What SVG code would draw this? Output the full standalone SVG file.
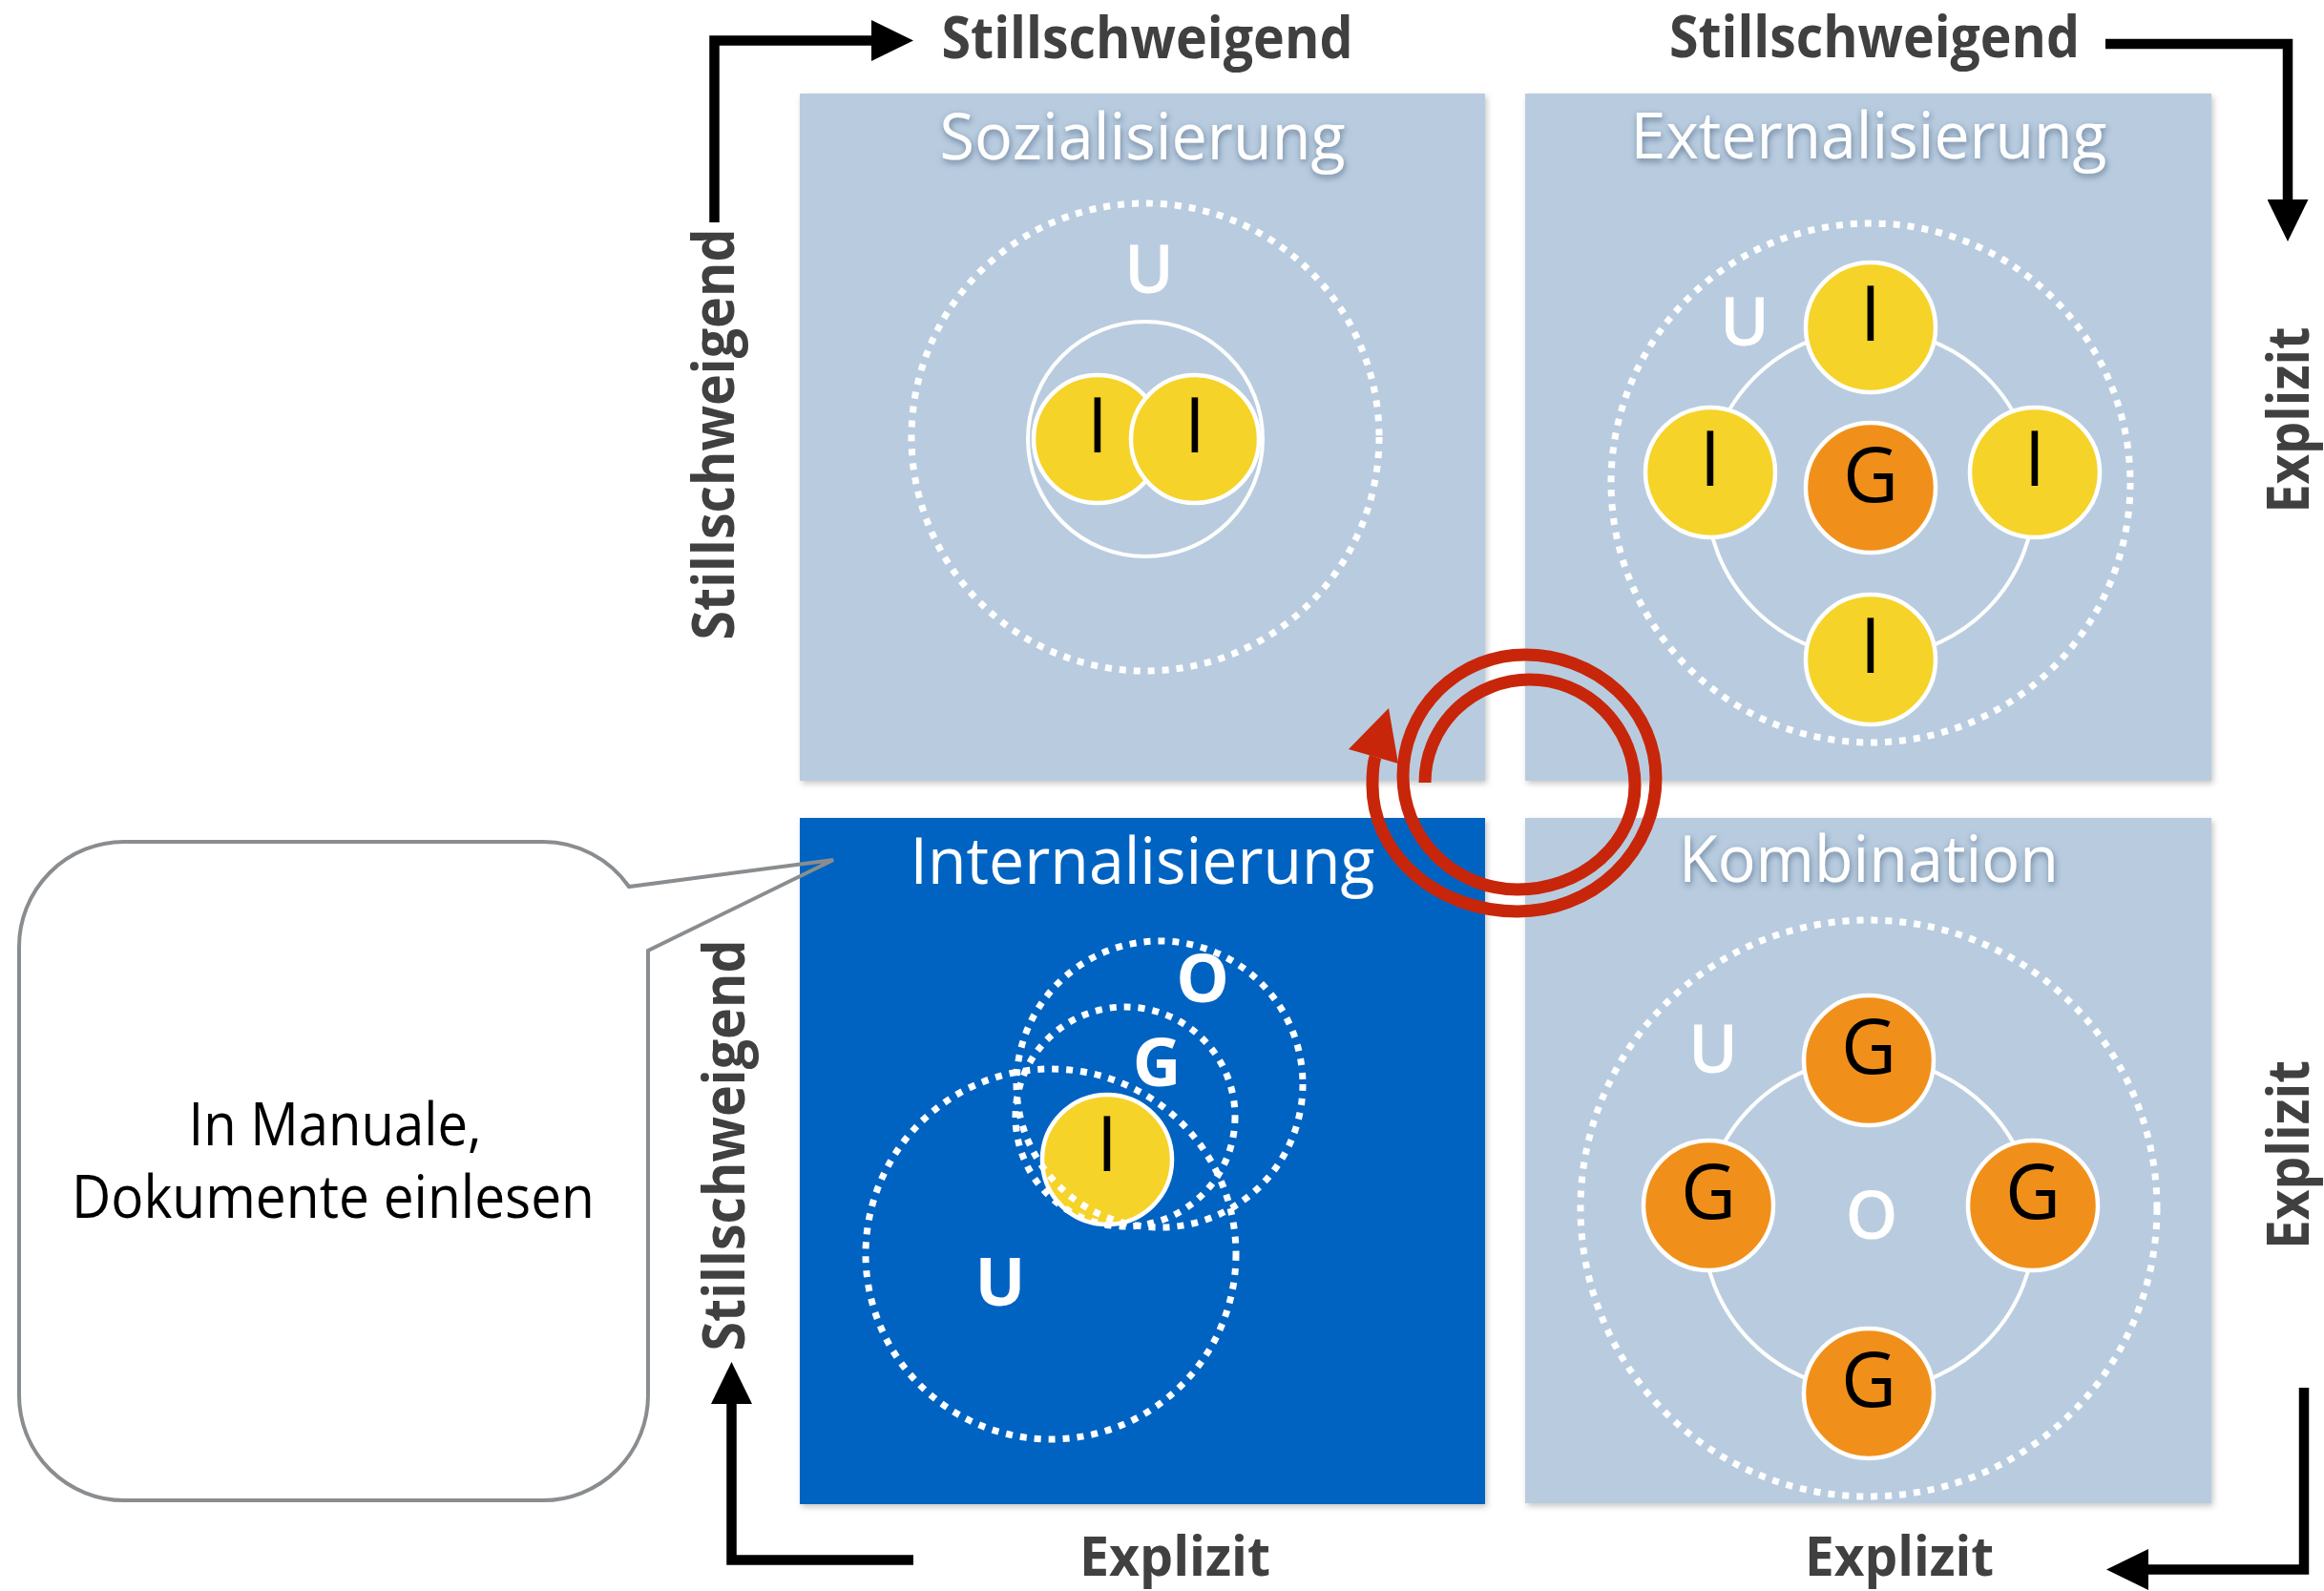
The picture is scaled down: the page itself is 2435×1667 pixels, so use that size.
<svg xmlns="http://www.w3.org/2000/svg" width="2435" height="1667" viewBox="0 0 2435 1667">
  <style>
    .box-light { fill:#B9CCDF; filter:url(#boxShadow); }
    .box-dark { fill:#0563C1; filter:url(#boxShadow); }
    .title { font-family:"Open Sans","Noto Sans",sans-serif; font-size:68px; fill:#ffffff; text-anchor:middle; }
    .shadowed { filter:url(#titleShadow); }
    .dotted { fill:none; stroke:#ffffff; stroke-width:7; stroke-dasharray:7 8; }
    .ring { fill:none; stroke:#ffffff; stroke-width:4; }
    .yellow { fill:#F5D328; stroke:#ffffff; stroke-width:4.5; }
    .orange { fill:#F0901B; stroke:#ffffff; stroke-width:4.5; }
    .letter { font-family:"Open Sans","Noto Sans",sans-serif; font-size:80px; fill:#000000; text-anchor:middle; }
    .label { font-family:"Open Sans","Noto Sans",sans-serif; font-size:70px; font-weight:600; fill:#ffffff; text-anchor:middle; }
    .bold { font-weight:700; }
    .axis { font-family:"Open Sans","Noto Sans",sans-serif; font-weight:700; font-size:60px; fill:#404040; text-anchor:middle; }
    .axis-low { font-size:57px; }
    .conn { fill:none; stroke:#000000; stroke-width:10.5; stroke-linejoin:miter; marker-end:url(#arrow); }
    .spiral { fill:none; stroke:#C8260A; stroke-width:13; stroke-linecap:butt; }
    .callout-fill { fill:#ffffff; stroke:none; }
    .callout-line { fill:none; stroke:#8A8D90; stroke-width:4; stroke-linejoin:miter; }
    .callout-text { font-family:"Open Sans","Noto Sans",sans-serif; font-size:62px; fill:#000000; text-anchor:middle; }
  </style>
  <defs>
    <filter id="boxShadow" x="-5%" y="-5%" width="110%" height="110%">
      <feDropShadow dx="2" dy="3" stdDeviation="3" flood-color="#000000" flood-opacity="0.22"/>
    </filter>
    <filter id="titleShadow" x="-10%" y="-30%" width="120%" height="160%">
      <feDropShadow dx="1" dy="3" stdDeviation="3.5" flood-color="#2E4A6B" flood-opacity="0.6"/>
    </filter>
    <marker id="arrow" viewBox="0 0 44 43" refX="0" refY="21.5" markerWidth="44" markerHeight="43" markerUnits="userSpaceOnUse" orient="auto">
      <path d="M0,0 L44,21.5 L0,43 Z" fill="#000000"/>
    </marker>
    <clipPath id="leftOfBox">
      <rect x="0" y="0" width="838" height="1667"/>
    </clipPath>
  </defs>

  <rect x="0" y="0" width="2435" height="1667" fill="#ffffff"/>

  <!-- Sozialisierung -->
  <g id="sozialisierung">
    <rect class="box-light" x="838" y="98" width="718" height="720"/>
    <text class="title shadowed" x="1197" y="167" textLength="425" lengthAdjust="spacingAndGlyphs">Sozialisierung</text>
    <circle class="dotted" cx="1200" cy="458" r="245"/>
    <circle class="ring" cx="1200" cy="460" r="123"/>
    <text class="label" x="1204" y="307">U</text>
    <circle class="yellow" cx="1150" cy="460" r="67"/>
    <circle class="yellow" cx="1252" cy="460" r="67"/>
    <text class="letter" x="1150" y="474">I</text>
    <text class="letter" x="1252" y="474">I</text>
  </g>

  <!-- Externalisierung -->
  <g id="externalisierung">
    <rect class="box-light" x="1598" y="98" width="719" height="720"/>
    <text class="title shadowed" x="1958" y="166" textLength="499" lengthAdjust="spacingAndGlyphs">Externalisierung</text>
    <circle class="dotted" cx="1960" cy="506" r="272"/>
    <circle class="ring" cx="1960" cy="517" r="172"/>
    <text class="label" x="1828" y="362">U</text>
    <circle class="yellow" cx="1960" cy="343" r="68"/>
    <circle class="yellow" cx="1792" cy="495" r="68"/>
    <circle class="orange" cx="1960" cy="511" r="68"/>
    <circle class="yellow" cx="2132" cy="495" r="68"/>
    <circle class="yellow" cx="1960" cy="691" r="68"/>
    <text class="letter" x="1960" y="357">I</text>
    <text class="letter" x="1792" y="509">I</text>
    <text class="letter" x="1960" y="526">G</text>
    <text class="letter" x="2132" y="509">I</text>
    <text class="letter" x="1960" y="705">I</text>
  </g>

  <!-- Kombination -->
  <g id="kombination">
    <rect class="box-light" x="1598" y="857" width="719" height="718"/>
    <text class="title shadowed" x="1958" y="924" textLength="398" lengthAdjust="spacingAndGlyphs">Kombination</text>
    <circle class="dotted" cx="1958" cy="1266" r="302"/>
    <circle class="ring" cx="1958" cy="1283" r="174"/>
    <text class="label" x="1795" y="1124">U</text>
    <text class="label" x="1961" y="1298">O</text>
    <circle class="orange" cx="1958" cy="1111" r="68"/>
    <circle class="orange" cx="1790" cy="1263" r="68"/>
    <circle class="orange" cx="2130" cy="1263" r="68"/>
    <circle class="orange" cx="1958" cy="1460" r="68"/>
    <text class="letter" x="1958" y="1125">G</text>
    <text class="letter" x="1790" y="1277">G</text>
    <text class="letter" x="2130" y="1277">G</text>
    <text class="letter" x="1958" y="1474">G</text>
  </g>

  <!-- Internalisierung -->
  <g id="internalisierung">
    <rect class="box-dark" x="838" y="857" width="718" height="719"/>
    <text class="title" x="1197" y="926" textLength="487" lengthAdjust="spacingAndGlyphs">Internalisierung</text>
    <circle class="yellow" cx="1160" cy="1215" r="68"/>
    <text class="letter" x="1160" y="1227">I</text>
    <circle class="dotted" cx="1101" cy="1314" r="194"/>
    <circle class="dotted" cx="1179" cy="1170" r="115"/>
    <circle class="dotted" cx="1215" cy="1136" r="150"/>
    <text class="label bold" x="1260" y="1050">O</text>
    <text class="label bold" x="1212" y="1138">G</text>
    <text class="label bold" x="1048" y="1368">U</text>
  </g>

  <!-- Callout -->
  <g id="callout">
    <path class="callout-fill" clip-path="url(#leftOfBox)" d="M130,882 H569 A110,110 0 0 1 659,929 L873,901 L679,996 V1462 A110,110 0 0 1 569,1572 H130 A110,110 0 0 1 20,1462 V992 A110,110 0 0 1 130,882 Z"/>
    <path class="callout-line" d="M130,882 H569 A110,110 0 0 1 659,929 L873,901 L679,996 V1462 A110,110 0 0 1 569,1572 H130 A110,110 0 0 1 20,1462 V992 A110,110 0 0 1 130,882 Z"/>
    <text class="callout-text" x="351" y="1200" textLength="307" lengthAdjust="spacingAndGlyphs">In Manuale,</text>
    <text class="callout-text" x="349" y="1276" textLength="548" lengthAdjust="spacingAndGlyphs">Dokumente einlesen</text>
  </g>

  <!-- Axis labels -->
  <g id="axis-labels">
    <text class="axis" x="1202" y="61" textLength="431" lengthAdjust="spacingAndGlyphs">Stillschweigend</text>
    <text class="axis" x="1964" y="60" textLength="430" lengthAdjust="spacingAndGlyphs">Stillschweigend</text>
    <text class="axis" transform="translate(2419,440) rotate(-90)" x="0" y="0" textLength="195" lengthAdjust="spacingAndGlyphs">Explizit</text>
    <text class="axis" transform="translate(2419,1210) rotate(-90)" x="0" y="0" textLength="198" lengthAdjust="spacingAndGlyphs">Explizit</text>
    <text class="axis axis-low" x="1990" y="1651" textLength="198" lengthAdjust="spacingAndGlyphs">Explizit</text>
    <text class="axis axis-low" x="1231" y="1651" textLength="200" lengthAdjust="spacingAndGlyphs">Explizit</text>
    <text class="axis" transform="translate(769,455) rotate(-90)" x="0" y="0" textLength="431" lengthAdjust="spacingAndGlyphs">Stillschweigend</text>
    <text class="axis" transform="translate(780,1200) rotate(-90)" x="0" y="0" textLength="431" lengthAdjust="spacingAndGlyphs">Stillschweigend</text>
  </g>

  <!-- Connectors -->
  <g id="connectors">
    <path class="conn" d="M748.5,233 V42.5 H913"/>
    <path class="conn" d="M2206,46 H2397 V209"/>
    <path class="conn" d="M2414,1454 V1644.5 H2251"/>
    <path class="conn" d="M957,1634.5 H766.5 V1471"/>
    <g id="cycle">
      <path class="spiral" d="M1493,820 A110,108 0 0 1 1603,712 A110,111 0 0 1 1713,823 A123,109 0 0 1 1590,932 A120,119 0 0 1 1470,813 A128,127 0 0 1 1598,686 A137,129 0 0 1 1735,815 A145,140 0 0 1 1590,955 A152,132 0 0 1 1438,823 C1438,813 1438,802 1441,793"/>
      <polygon points="1413,785 1455,742 1465,800" fill="#C8260A"/>
    </g>
  </g>
</svg>
